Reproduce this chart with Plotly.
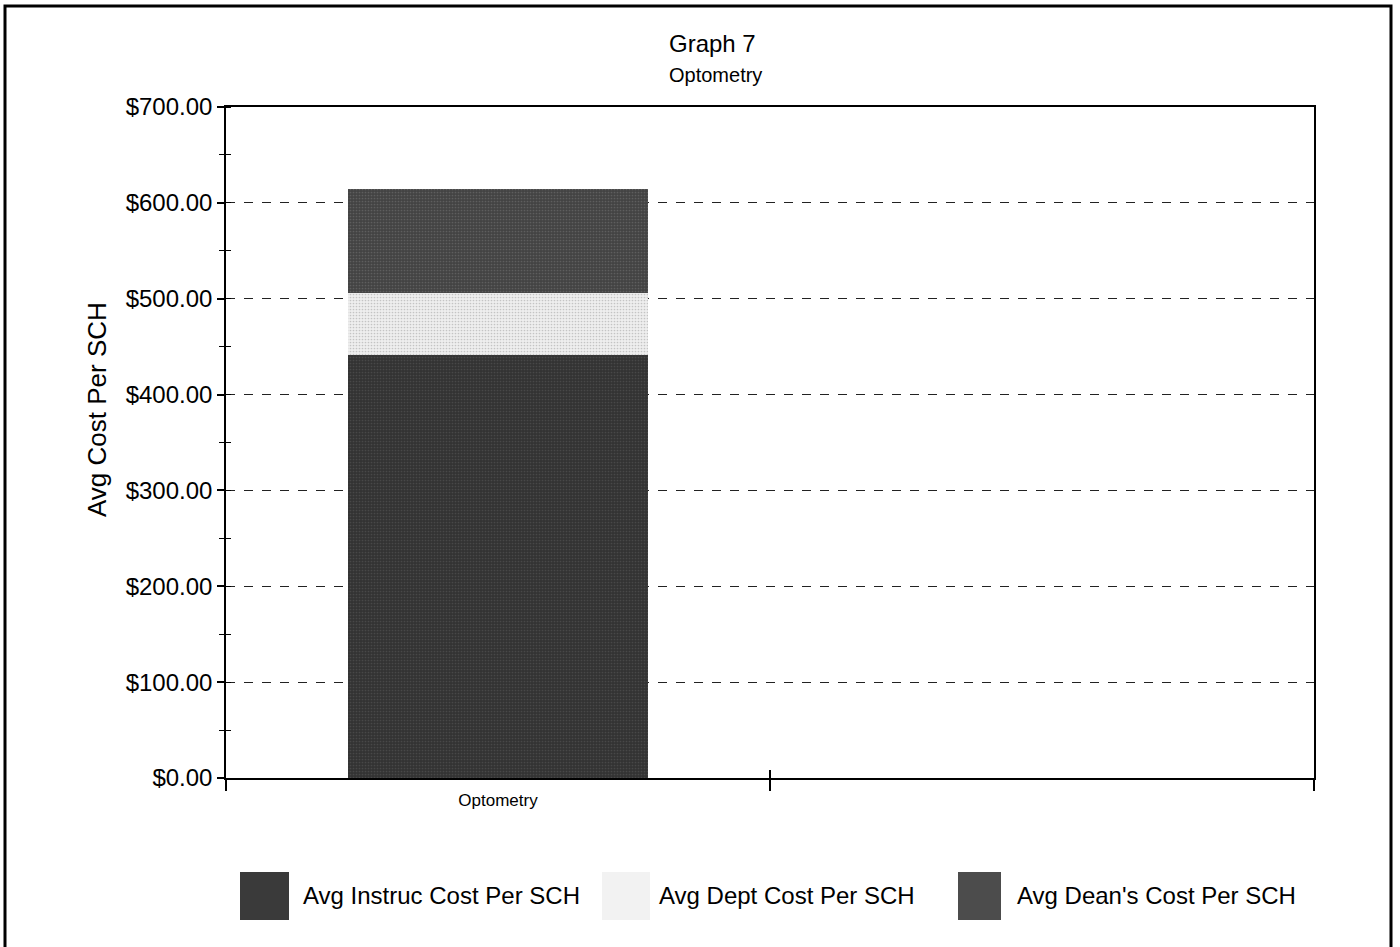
import plotly.graph_objects as go

# ---------------- data ----------------
categories = ["Optometry", " "]
series_names = ["Avg Instruc Cost Per SCH", "Avg Dept Cost Per SCH", "Avg Dean's Cost Per SCH"]
instruc_cost = [441, None]
dept_cost = [65, None]
dean_cost = [108, None]
y_tick_vals = [0, 100, 200, 300, 400, 500, 600, 700]
y_tick_text = ["$0.00", "$100.00", "$200.00", "$300.00", "$400.00", "$500.00", "$600.00", "$700.00"]
title_text = "Graph 7"
subtitle_text = "Optometry"
y_title = "Avg Cost Per SCH"

# ---------------- styling ----------------
W, H = 1400, 947
L, R, T, B = 226, 86, 107, 169
PW, PH = W - L - R, H - T - B

def px(x):
    return (x - L) / PW

def py(y):
    return (H - B - y) / PH

bg_colors = ["#333333", "#eeeeee", "#434343"]
fg_colors = ["#5e5e5e", "#9a9a9a", "#7a7a7a"]
swatch_colors = ["#3a3a3a", "#f2f2f2", "#4c4c4c"]
FONT = "Liberation Sans, Arial, sans-serif"

fig = go.Figure()
for name, vals, bgc, fgc in zip(series_names, [instruc_cost, dept_cost, dean_cost], bg_colors, fg_colors):
    fig.add_trace(go.Bar(
        x=categories, y=vals, name=name, width=0.55,
        marker=dict(color=bgc, line=dict(width=0),
                    pattern=dict(shape=".", fgcolor=fgc, bgcolor=bgc, size=3, solidity=0.25)),
        showlegend=False,
    ))

# invisible helper trace to create overlay axes for crossing ticks
fig.add_trace(go.Scatter(x=[categories[0]], y=[0], xaxis="x2", yaxis="y2", mode="markers",
                         marker=dict(opacity=0), showlegend=False, hoverinfo="skip"))

fig.update_layout(
    width=W, height=H,
    margin=dict(l=L, r=R, t=T, b=B),
    paper_bgcolor="white", plot_bgcolor="white",
    barmode="stack", bargap=0.45,
    font=dict(family=FONT, color="black"),
    showlegend=False,
    xaxis=dict(type="category", categoryarray=categories, range=[-0.5, 1.5],
               tickson="boundaries", ticks="outside", ticklen=11, tickcolor="black", tickwidth=1.5,
               showline=True, linecolor="black", linewidth=1.5, mirror=True,
               showgrid=False, tickfont=dict(size=17, family=FONT), ticklabelstandoff=6),
    xaxis2=dict(type="category", categoryarray=categories, range=[-0.5, 1.5], overlaying="x",
                matches="x", tickson="boundaries", ticks="inside", ticklen=8, tickcolor="black",
                tickwidth=1.5, showticklabels=False, showline=False, showgrid=False, anchor="y"),
    yaxis=dict(range=[0, 700], tickvals=y_tick_vals, ticktext=y_tick_text,
               ticks="outside", ticklen=7, tickcolor="black", tickwidth=1.5,
               minor=dict(dtick=50, ticks="outside", ticklen=5, tickcolor="black", tickwidth=1.2, showgrid=False),
               showline=True, linecolor="black", linewidth=1.5, mirror=True,
               showgrid=True, gridcolor="#222222", gridwidth=1, griddash="dash",
               zeroline=False, tickfont=dict(size=24, family=FONT)),
    yaxis2=dict(range=[0, 700], overlaying="y", matches="y", side="left", anchor="x",
                tickvals=y_tick_vals, ticks="", showticklabels=False,
                minor=dict(dtick=50, ticks="inside", ticklen=5, tickcolor="black", tickwidth=1.2, showgrid=False),
                showline=False, showgrid=False, zeroline=False),
)

annotations = [
    dict(text=title_text, x=px(712), y=py(44), xref="paper", yref="paper", showarrow=False,
         font=dict(size=24, family=FONT), xanchor="center", yanchor="middle"),
    dict(text=subtitle_text, x=px(715), y=py(75), xref="paper", yref="paper", showarrow=False,
         font=dict(size=20, family=FONT), xanchor="center", yanchor="middle"),
    dict(text=y_title, x=px(97), y=py(410), xref="paper", yref="paper", showarrow=False,
         textangle=-90, font=dict(size=26, family=FONT), xanchor="center", yanchor="middle"),
]

shapes = [
    # outer frame
    dict(type="rect", xref="paper", yref="paper", x0=px(5), x1=px(1391), y0=py(960), y1=py(6),
         line=dict(color="black", width=3), fillcolor="rgba(0,0,0,0)", layer="above"),
]

legend_swatch_x = [(240, 289), (602, 650), (958, 1001)]
legend_text_x = [301, 657, 1015]
for name, (sx0, sx1), tx, sc in zip(series_names, legend_swatch_x, legend_text_x, swatch_colors):
    shapes.append(dict(type="rect", xref="paper", yref="paper", x0=px(sx0), x1=px(sx1),
                       y0=py(920), y1=py(872), fillcolor=sc, line=dict(width=0)))
    annotations.append(dict(text=name, x=px(tx), y=py(895), xref="paper", yref="paper",
                            showarrow=False, xanchor="left", yanchor="middle",
                            font=dict(size=24, family=FONT)))

fig.update_layout(annotations=annotations, shapes=shapes)
fig.write_html("out.html")
